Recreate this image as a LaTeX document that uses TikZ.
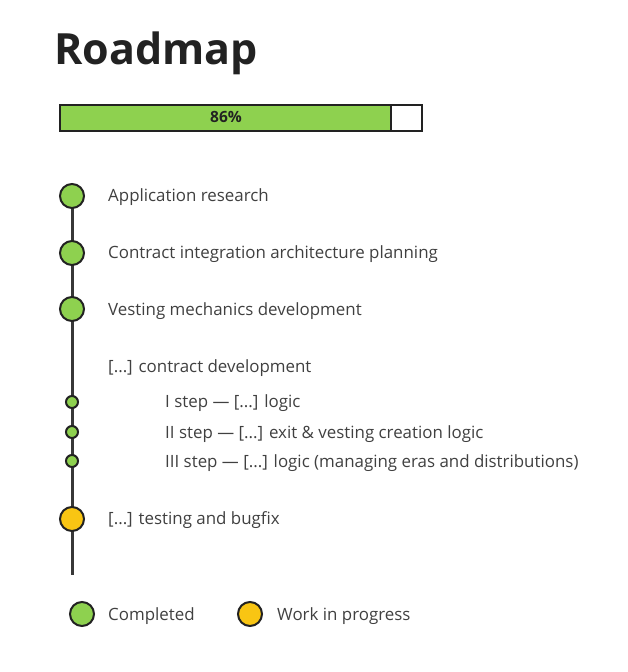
\documentclass[tikz,border=0pt]{standalone}
\usepackage{fontspec}
\setmainfont{Open Sans}
\definecolor{done}{HTML}{8ED14F}
\definecolor{wip}{HTML}{F9C513}
\definecolor{ink}{HTML}{222222}
\definecolor{txt}{HTML}{404040}
\begin{document}
\begin{tikzpicture}[x=1pt,y=-1pt,
  bigdot/.style={circle,draw=ink,line width=2pt,minimum size=24pt,inner sep=0pt},
  smalldot/.style={circle,draw=ink,line width=2pt,minimum size=12pt,inner sep=0pt,fill=done},
  lbl/.style={anchor=west,text=txt,font=\fontsize{16.9}{20}\selectfont,inner sep=0pt},
]
\useasboundingbox (0,0) rectangle (627,672);
% title
\node[anchor=base west,inner sep=0pt,text=ink,font=\fontsize{43}{48}\bfseries] (title) at (54,64) {Roadmap};
% progress bar
\draw[draw=ink,line width=2pt,fill=white] (60,105) rectangle (422,131);
\draw[draw=ink,line width=2pt,fill=done] (60,105) rectangle (391,131);
\node[font=\fontsize{15.5}{18}\bfseries\selectfont,text=ink,inner sep=0pt] (pct) at (226,117) {86\%};
% timeline
\coordinate (top) at (72,196);
\coordinate (bot) at (72,575);
\draw[ink!90,line width=3pt] (top) -- (bot);
\node[bigdot,fill=done] (d1) at (72,196) {};
\node[bigdot,fill=done] (d2) at (72,253) {};
\node[bigdot,fill=done] (d3) at (72,309) {};
\node[smalldot] (s1) at (72,402) {};
\node[smalldot] (s2) at (72,432) {};
\node[smalldot] (s3) at (72,461) {};
\node[bigdot,fill=wip] (d4) at (72,519) {};
\node[lbl] (t1) at (108,197) {Application research};
\node[lbl] (t2) at (108,254) {Contract integration architecture planning};
\node[lbl] (t3) at (108,311) {Vesting mechanics development};
\node[lbl] (t4) at (108,368) {[...] contract development};
\node[lbl] (u1) at (165,403) {I step — [...] logic};
\node[lbl] (u2) at (165,434) {II step — [...] exit \& vesting creation logic};
\node[lbl] (u3) at (165,463) {III step — [...] logic (managing eras and distributions)};
\node[lbl] (t5) at (108,520) {[...] testing and bugfix};
% legend
\node[bigdot,fill=done] (lg1) at (82,614) {};
\node[lbl] (lt1) at (108,616) {Completed};
\node[bigdot,fill=wip] (lg2) at (250,614) {};
\node[lbl] (lt2) at (277,616) {Work in progress};
\end{tikzpicture}
\end{document}
